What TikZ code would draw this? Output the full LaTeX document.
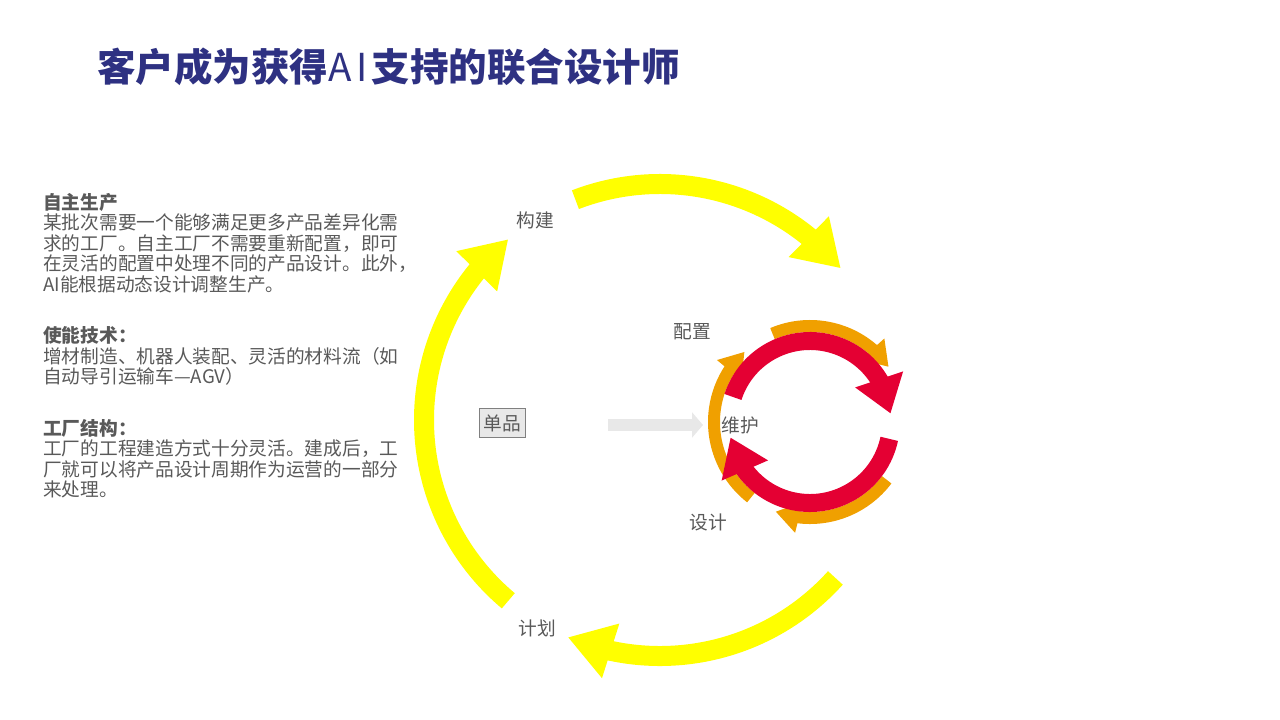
\documentclass[tikz,border=0pt]{standalone}
\usepackage{fontspec}
\setmainfont{Noto Sans CJK SC}
\usetikzlibrary{arrows.meta,bending,positioning}
\definecolor{titleblue}{RGB}{46,49,130}
\definecolor{txtgray}{RGB}{89,89,89}
\definecolor{ringred}{RGB}{228,0,51}
\definecolor{ringorange}{RGB}{240,160,0}
\definecolor{ringyellow}{RGB}{255,255,0}
\definecolor{arrgray}{RGB}{232,232,232}

\begin{document}
\begin{tikzpicture}[x=1pt, y=-1pt,
    lbl/.style={text=txtgray, font=\fontsize{18.7}{20.5}\selectfont, inner sep=0pt},
    yarrow/.style={line width=20pt, draw=ringyellow, -{Triangle[width=54pt, length=45pt]}},
    rarrow/.style={line width=18pt, draw=ringred, -{Triangle[width=48pt, length=36pt]}},
    oarrow/.style={line width=12pt, draw=ringorange, -{Triangle[width=30pt, length=24pt]}},
    garrow/.style={line width=12pt, draw=arrgray, -{Triangle[width=25pt, length=11pt]}}
]
\useasboundingbox (0,0) rectangle (1280,720);

% title
\node[anchor=west, inner sep=0pt, text=titleblue, font=\fontsize{38.5}{44}\selectfont\bfseries] (title) at (97,67)
  {客户成为获得{\mdseries A\hspace{5pt}I\hspace{4pt}}支持的联合设计师};

% text block
\node[lbl, anchor=north west, align=left] (info) at (43,193)
  {{\bfseries 自主生产}\\
   某批次需要一个能够满足更多产品差异化需\\
   求的工厂。自主工厂不需要重新配置，即可\\
   在灵活的配置中处理不同的产品设计。此外，\\
   AI能根据动态设计调整生产。\\[31pt]
   {\bfseries 使能技术：}\\
   增材制造、机器人装配、灵活的材料流（如\\
   自动导引运输车—AGV）\\[31pt]
   {\bfseries 工厂结构：}\\
   工厂的工程建造方式十分灵活。建成后，工\\
   厂就可以将产品设计周期作为运营的一部分\\
   来处理。};

% outer cycle
\coordinate (big) at (660,420);
\draw[yarrow] ([shift={(230:236pt)}]big) arc[start angle=230, end angle=130, radius=236pt];
\draw[yarrow] ([shift={(111:236pt)}]big) arc[start angle=111, end angle=40, radius=236pt];
\draw[yarrow] ([shift={(-42:236pt)}]big) arc[start angle=-42, end angle=-113, radius=236pt];

% inner cycle
\coordinate (small) at (810,422);
\draw[oarrow] ([shift={(113:96pt)}]small) arc[start angle=113, end angle=35, radius=96pt];
\draw[oarrow] ([shift={(232:96pt)}]small) arc[start angle=232, end angle=133, radius=96pt];
\draw[oarrow] ([shift={(-37:96pt)}]small) arc[start angle=-37, end angle=-111, radius=96pt];
\draw[rarrow] ([shift={(162:81pt)}]small) arc[start angle=162, end angle=6, radius=81pt];
\draw[rarrow] ([shift={(-12:81pt)}]small) arc[start angle=-12, end angle=-169, radius=81pt];

% labels
\node[lbl] (build) at (535,220) {构建};
\node[lbl] (plan) at (537,628) {计划};
\node[lbl, draw=gray, fill=arrgray, inner xsep=4.5pt, inner ysep=6pt] (single) at (502,423) {单品};
\node[lbl] (config) at (692,332) {配置};
\node[lbl] (maint) at (740,425) {维护};
\node[lbl] (design) at (708,522) {设计};

\coordinate (gs) at (608,425);
\coordinate (ge) at (703,425);
\draw[garrow] (gs) -- (ge);
\end{tikzpicture}
\end{document}
